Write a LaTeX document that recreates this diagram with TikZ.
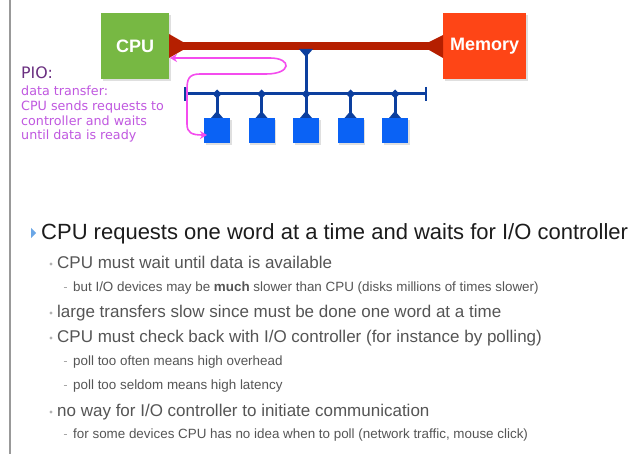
\documentclass[tikz,border=0pt]{standalone}
\usepackage{fontspec}
\setmainfont{Liberation Sans}
\newfontfamily\piofont{DejaVu Sans}
\usetikzlibrary{arrows.meta,shadows}
\definecolor{cpugreen}{HTML}{77B843}
\definecolor{memred}{HTML}{FE4516}
\definecolor{busred}{HTML}{B51F00}
\definecolor{busblue}{HTML}{0C3F9E}
\definecolor{devblue}{HTML}{0A62F5}
\definecolor{piodark}{HTML}{6A2F80}
\definecolor{piotext}{HTML}{C058E0}
\definecolor{magline}{HTML}{F44CEE}
\definecolor{txtone}{HTML}{1C1C1C}
\definecolor{txttwo}{HTML}{555555}
\definecolor{bulblue}{HTML}{6AA6E6}
\tikzset{
  unitbox/.style={draw=none, minimum width=68pt, minimum height=66pt, inner sep=0pt,
     text=white, font=\fontsize{18}{20}\selectfont\bfseries,
     drop shadow={opacity=0.25, shadow xshift=1.5pt, shadow yshift=-1.5pt}},
  devbox/.style={fill=devblue, minimum width=26pt, minimum height=25pt, inner sep=0pt,
     drop shadow={opacity=0.25, shadow xshift=1.5pt, shadow yshift=-1.5pt}},
  bline/.style={busblue, line width=3pt},
  magarrow/.style={magline, line width=1.6pt, {Stealth[length=7pt,width=8pt]}-{Stealth[length=7pt,width=8pt]}},
  lone/.style={anchor=base west, inner sep=0pt, text=txtone, font=\fontsize{22}{26}\selectfont},
  ltwo/.style={anchor=base west, inner sep=0pt, text=txttwo, font=\fontsize{17}{20}\selectfont},
  lthree/.style={anchor=base west, inner sep=0pt, text=txttwo, font=\fontsize{13.4}{16}\selectfont},
  piotxt/.style={anchor=base west, inner sep=0pt, text=piotext, font=\piofont\fontsize{12.7}{15}\selectfont},
}
\begin{document}
\begin{tikzpicture}[x=1pt,y=-1pt]
\useasboundingbox (0,0) rectangle (631,454);
\fill[white] (0,0) rectangle (631,454);
% slide frame line and cut title glyph
\draw[gray!80, line width=1.6pt] (10,0) -- (10,454);
\draw[blue!70!cyan, line width=1.5pt] (83,-1) arc[start angle=180, end angle=360, x radius=6, y radius=3.5];

% boxes
\node[unitbox, fill=cpugreen, anchor=north west] (cpu) at (101,13) {CPU};
\node[unitbox, fill=memred, anchor=north west, minimum width=83pt] (mem) at (443,13) {Memory};

% red bus
\coordinate (rl) at (169,46);
\coordinate (rr) at (443,46);
\draw[busred, line width=8pt] (rl) -- (rr);
\fill[busred] (169,34) -- (169,58) -- (183,50) -- (183,42) -- cycle;
\fill[busred] (443,35) -- (443,58) -- (429,50) -- (429,42) -- cycle;

% blue I/O bus
\coordinate (stemtop) at (306,50);
\coordinate (busmid) at (306,94);
\coordinate (busl) at (185,94);
\coordinate (busr) at (426,94);
\draw[bline] (stemtop) -- (busmid);
\fill[busblue] (299,49) -- (313,49) -- (306,57) -- cycle;
\draw[bline] (busl) -- (busr);
\draw[busblue, line width=2.5pt] (185,87) -- (185,101);
\draw[busblue, line width=2.5pt] (426,87) -- (426,101);

\foreach \i/\x in {1/217,2/261.5,3/306,4/350.5,5/395}{
  \node[devbox, anchor=north] (dev\i) at (\x,118) {};
  \coordinate (tap\i) at (\x,94);
  \draw[bline] (tap\i) -- (dev\i.north);
  \fill[busblue] (\x-4.5,94) -- (\x,89.5) -- (\x+4.5,94) -- (\x,98.5) -- cycle;
  \fill[busblue] (\x-6,118) -- (\x+6,118) -- (\x,111) -- cycle;
}

% PIO annotation
\node[anchor=base west, inner sep=0pt, text=piodark, font=\piofont\fontsize{15.8}{18}\selectfont] (pio) at (21,78.5) {PIO:};
\node[piotxt] (p1) at (21,96) {data transfer:};
\node[piotxt] (p2) at (21,110.7) {CPU sends requests to};
\node[piotxt] (p3) at (21,125.4) {controller and waits};
\node[piotxt] (p4) at (21,140) {until data is ready};

% magenta round trip
\coordinate (mstart) at (170,58);
\coordinate (mend) at (207,135);
\draw[magarrow] (mstart) -- (270,58) .. controls (292,58) and (292,74) .. (266,74)
   -- (200,74) .. controls (188,74) and (187,80) .. (187,90)
   -- (187,124) .. controls (187,133) and (192,135) .. (mend);

% bullets
\fill[bulblue] (31,228) -- (31,238) -- (36,233) -- cycle;
\node[lone] (t1) at (41,240) {CPU requests one word at a time and waits for I/O controller};

\foreach \yy in {264,313,338,412}{ \fill[gray!60] (51,\yy) circle (1.7); }
\foreach \yy in {287,361,385,434}{ \draw[gray!70, line width=0.7pt] (63.5,\yy) -- (67,\yy); }

\node[ltwo] (t2) at (57,268.5) {CPU must wait until data is available};
\node[lthree] (t3) at (73,291.5) {but I/O devices may be \textbf{much} slower than CPU (disks millions of times slower)};
\node[ltwo] (t4) at (57,317.5) {large transfers slow since must be done one word at a time};
\node[ltwo] (t5) at (57,342.5) {CPU must check back with I/O controller (for instance by polling)};
\node[lthree] (t6) at (73,365.5) {poll too often means high overhead};
\node[lthree] (t7) at (73,389.5) {poll too seldom means high latency};
\node[ltwo] (t8) at (57,416.5) {no way for I/O controller to initiate communication};
\node[lthree] (t9) at (73,438.5) {for some devices CPU has no idea when to poll (network traffic, mouse click)};
\end{tikzpicture}
\end{document}
